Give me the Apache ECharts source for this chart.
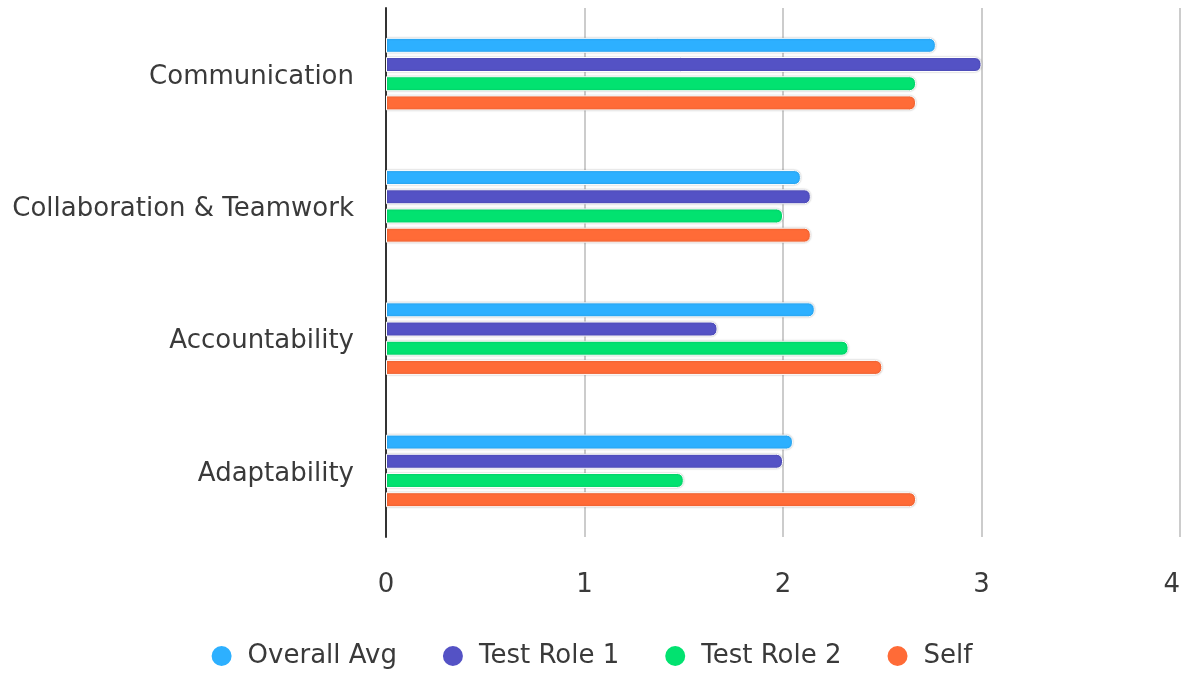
<!DOCTYPE html>
<html>
<head>
<meta charset="utf-8">
<script src="https://cdn.jsdelivr.net/npm/echarts@6/dist/echarts.min.js"></script>
<style>html,body{margin:0;padding:0;background:#fff;overflow:hidden}#c{width:1182px;height:673px}</style>
</head>
<body>
<div id="c"></div>
<script>
const categories = ['Communication', 'Collaboration & Teamwork', 'Accountability', 'Adaptability'];
const seriesNames = ['Overall Avg', 'Test Role 1', 'Test Role 2', 'Self'];
const overallAvg = [2.77, 2.09, 2.16, 2.05];
const testRole1 = [3.0, 2.14, 1.67, 2.0];
const testRole2 = [2.67, 2.0, 2.33, 1.5];
const self = [2.67, 2.14, 2.5, 2.67];
const colors = ['#2db0ff', '#5452c5', '#02e270', '#ff6b37'];
const xTicks = [0, 1, 2, 3, 4];

const values = [overallAvg, testRole1, testRole2, self];
const chart = echarts.init(document.getElementById('c'));
chart.setOption({
  animation: false,
  textStyle: { fontFamily: 'DejaVu Sans' },
  grid: { left: 386, right: 2, top: 8, bottom: 136, containLabel: false, outerBoundsMode: 'none' },
  legend: {
    top: 638,
    itemWidth: 22, itemHeight: 22, itemGap: 44, icon: 'circle',
    textStyle: { fontSize: 26, color: '#3a3a3a', fontFamily: 'DejaVu Sans', padding: [0, 0, 0, 10] },
    data: seriesNames
  },
  xAxis: {
    type: 'value', min: xTicks[0], max: xTicks[xTicks.length - 1], interval: 1,
    axisLine: { show: false }, axisTick: { show: false },
    axisLabel: { fontSize: 26, color: '#3a3a3a', margin: 35, fontFamily: 'DejaVu Sans', alignMaxLabel: 'right' },
    splitLine: { show: true, lineStyle: { color: '#cccccc', width: 2 } }
  },
  yAxis: {
    type: 'category', data: categories, inverse: true,
    axisLine: { show: true, lineStyle: { color: '#333', width: 2 } },
    axisTick: { show: false },
    axisLabel: {
      margin: 32,
      formatter: v => '{a|' + v + '}',
      rich: { a: { fontSize: 26, color: '#3a3a3a', fontFamily: 'DejaVu Sans', padding: [6, 0, 0, 0] } }
    }
  },
  series: seriesNames.map((n, i) => ({
    name: n, type: 'bar', data: values[i],
    barWidth: 15, barGap: '28%', barCategoryGap: '44%',
    itemStyle: { color: colors[i], borderColor: '#ffffff', borderWidth: 1, borderRadius: [0, 6, 6, 0],
      shadowColor: 'rgba(0,0,0,0.25)', shadowBlur: 2 }
  }))
});
</script>
</body>
</html>
